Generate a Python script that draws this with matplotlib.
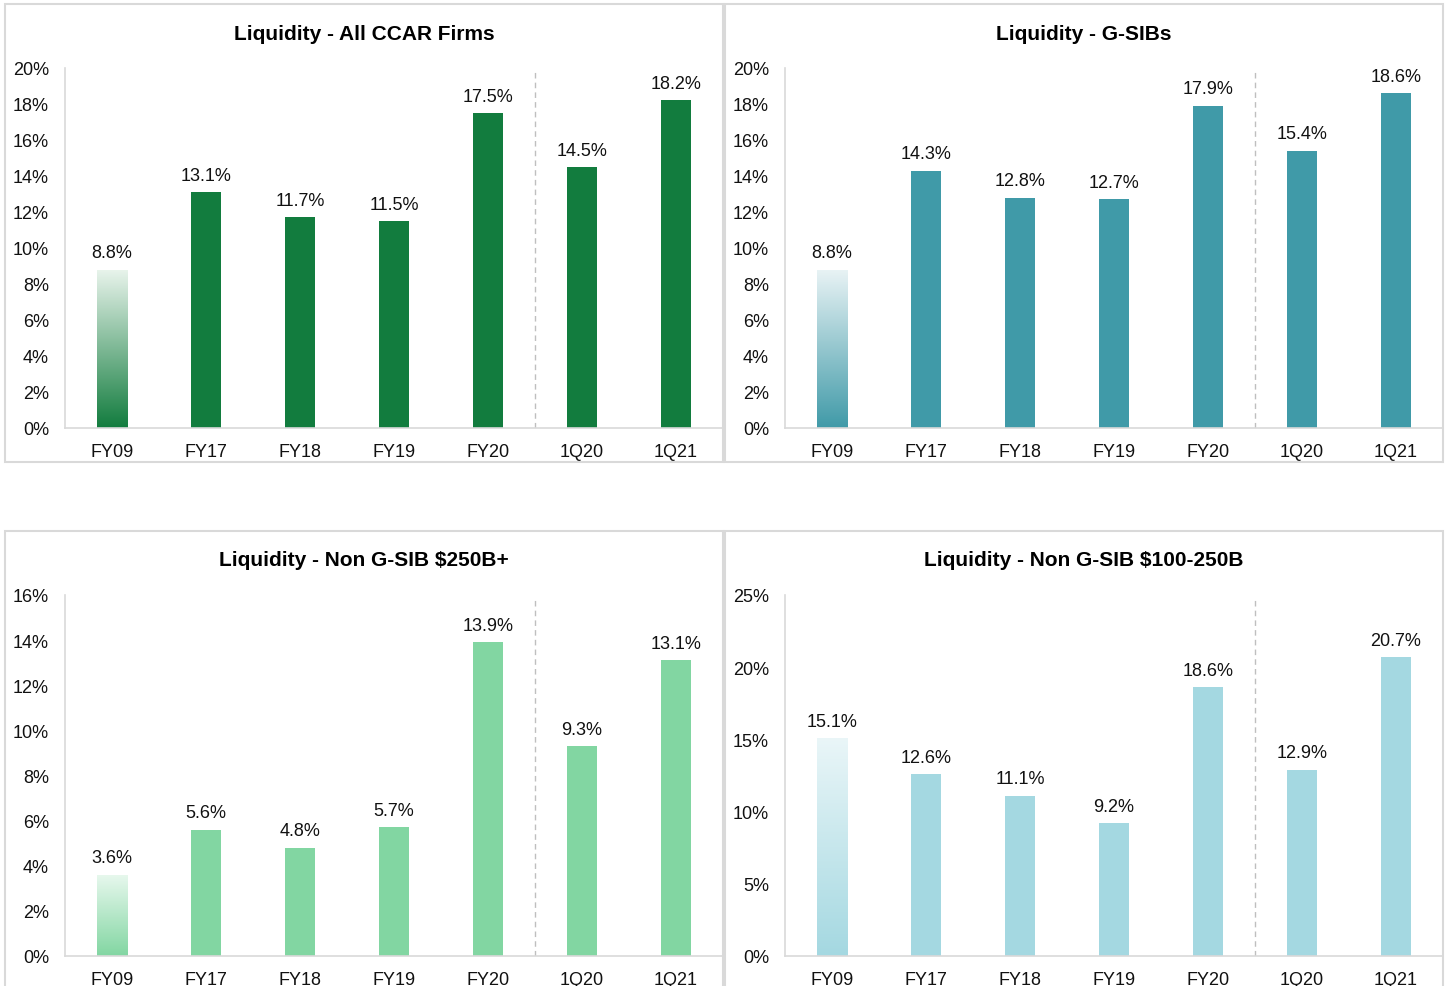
import numpy as np
import matplotlib
matplotlib.use("Agg")
import matplotlib.pyplot as plt
from matplotlib.colors import LinearSegmentedColormap
from matplotlib.patches import Rectangle

plt.rcParams['font.family'] = ['Liberation Sans', 'DejaVu Sans']

# ===== DATA =====
periods = ["FY09", "FY17", "FY18", "FY19", "FY20", "1Q20", "1Q21"]

titles = [
    "Liquidity - All CCAR Firms",
    "Liquidity - G-SIBs",
    "Liquidity - Non G-SIB $250B+",
    "Liquidity - Non G-SIB $100-250B",
]
all_ccar = [8.8, 13.1, 11.7, 11.5, 17.5, 14.5, 18.2]
gsibs = [8.8, 14.3, 12.8, 12.7, 17.9, 15.4, 18.6]
non_gsib_250 = [3.6, 5.6, 4.8, 5.7, 13.9, 9.3, 13.1]
non_gsib_100_250 = [15.1, 12.6, 11.1, 9.2, 18.6, 12.9, 20.7]

y_max = [20, 20, 16, 25]
y_step = [2, 2, 2, 5]
colors = ["#127C3E", "#409AA8", "#82D6A2", "#A4D8E1"]
light_tops = ["#E9F4EC", "#E9F3F5", "#E8F8EE", "#EAF6F8"]

W, H = 1450, 987
BOX = "#D9D9D9"
AXC = "#D9D9D9"


def fx(px):
    return px / W


def fy(py):
    return 1 - py / H


def draw_panel(fig, ax_rect, box_rect, title, values, ymax, ystep, color, light):
    x0, y_top, x1, y_zero = ax_rect
    ax = fig.add_axes([fx(x0), fy(y_zero), fx(x1 - x0), (y_zero - y_top) / H])

    bx0, by0, bx1, by1 = box_rect
    fig.patches.append(Rectangle((fx(bx0), fy(by1)), fx(bx1 - bx0), (by1 - by0) / H,
                                 transform=fig.transFigure, fill=False,
                                 edgecolor=BOX, linewidth=1.5, zorder=0))
    fig.text(fx((bx0 + bx1) / 2), fy(by0 + 29), title, ha="center", va="center",
             fontsize=15, fontweight="bold", color="#000000")

    x = np.arange(len(values))
    width = 0.32
    bars = ax.bar(x, values, width=width, color=color, zorder=2)

    # first bar gets a vertical gradient (light at top)
    first = bars[0]
    first.set_facecolor("none")
    cmap = LinearSegmentedColormap.from_list("grad", [color, light])
    grad = np.linspace(0, 1, 256).reshape(-1, 1)
    im = ax.imshow(grad, cmap=cmap, origin="lower", aspect="auto",
                   extent=(x[0] - width / 2, x[0] + width / 2, 0, values[0]), zorder=2)
    im.set_clip_path(first)

    for xi, v in zip(x, values):
        ax.annotate(f"{v:.1f}%", (xi, v), xytext=(0, 6), textcoords="offset points",
                    ha="center", va="bottom", fontsize=13, color="#111111")

    ax.axvline(4.5, ymin=0, ymax=0.99, color="#BFBFBF", linestyle=(0, (4, 3)),
               linewidth=1, zorder=1)

    ax.set_xlim(-0.5, len(values) - 0.5)
    ax.set_ylim(0, ymax)
    ticks = np.arange(0, ymax + 0.01, ystep)
    ax.set_yticks(ticks)
    ax.set_yticklabels([f"{int(t)}%" for t in ticks])
    ax.set_xticks(x)
    ax.set_xticklabels(periods)
    ax.tick_params(axis="both", length=0, labelsize=13, colors="#111111")
    ax.tick_params(axis="y", pad=11.5)
    ax.tick_params(axis="x", pad=11)
    for s in ["top", "right"]:
        ax.spines[s].set_visible(False)
    for s in ["left", "bottom"]:
        ax.spines[s].set_color(AXC)
        ax.spines[s].set_linewidth(1.2)
    ax.set_facecolor("none")
    return ax


fig = plt.figure(figsize=(W / 100, H / 100), dpi=100)

panels = [
    ((65, 69, 723, 429), (5, 5, 723, 463)),
    ((785, 69, 1443, 429), (725, 5, 1443, 463)),
    ((65, 596, 723, 957), (5, 532, 723, 1000)),
    ((785, 596, 1443, 957), (725, 532, 1443, 1000)),
]
series = [all_ccar, gsibs, non_gsib_250, non_gsib_100_250]

for i, (ax_rect, box_rect) in enumerate(panels):
    draw_panel(fig, ax_rect, box_rect, titles[i], series[i], y_max[i], y_step[i],
               colors[i], light_tops[i])

fig.savefig("out.png", dpi=100)
